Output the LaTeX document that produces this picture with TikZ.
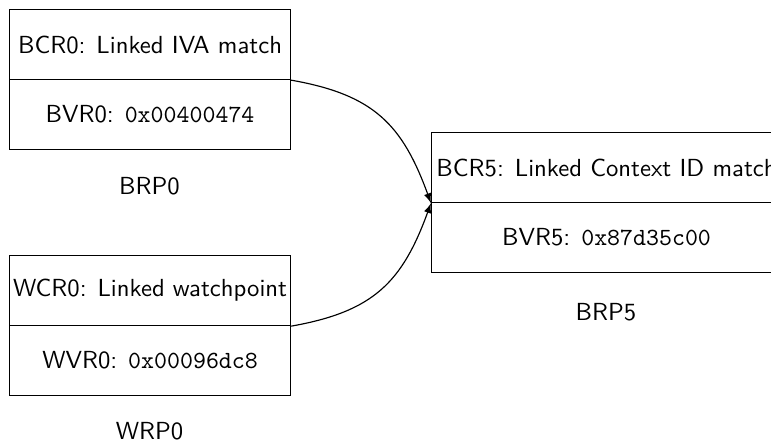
\documentclass[tikz,border=0pt]{standalone}
\usetikzlibrary{arrows}
\begin{document}
\begin{tikzpicture}[x=0.4348pt,y=-0.4348pt,
  font=\fontsize{10.74}{13}\sffamily,
  cell/.style={draw, line width=0.5pt, minimum height=70*0.4348pt, inner sep=0pt, anchor=north west},
  caption/.style={inner sep=0pt},
  link/.style={-latex, line width=0.5pt}]
\useasboundingbox (0,0) rectangle (771,444);
\clip (0,0) rectangle (771,444);
% BRP0
\node[cell, minimum width=281*0.4348pt] (bcr0) at (9,9) {BCR0: Linked IVA match};
\node[cell, minimum width=281*0.4348pt] (bvr0) at (9,79) {BVR0: \texttt{0x00400474}};
\node[caption] (brp0) at (149.5,186) {BRP0};
% WRP0
\node[cell, minimum width=281*0.4348pt] (wcr0) at (9,255) {WCR0: Linked watchpoint};
\node[cell, minimum width=281*0.4348pt] (wvr0) at (9,325) {WVR0: \texttt{0x00096dc8}};
\node[caption] (wrp0) at (149.5,431) {WRP0};
% BRP5
\node[cell, minimum width=350*0.4348pt] (bcr5) at (431,132) {BCR5: Linked Context ID match};
\node[cell, minimum width=350*0.4348pt] (bvr5) at (431,202) {BVR5: \texttt{0x87d35c00}};
\node[caption] (brp5) at (606,312) {BRP5};
% links
\draw[link] (bcr0.south east) to[out=-10, in=110, looseness=1.15] (bcr5.south west);
\draw[link] (wcr0.south east) to[out=10, in=-110, looseness=1.15] (bcr5.south west);
\end{tikzpicture}
\end{document}
